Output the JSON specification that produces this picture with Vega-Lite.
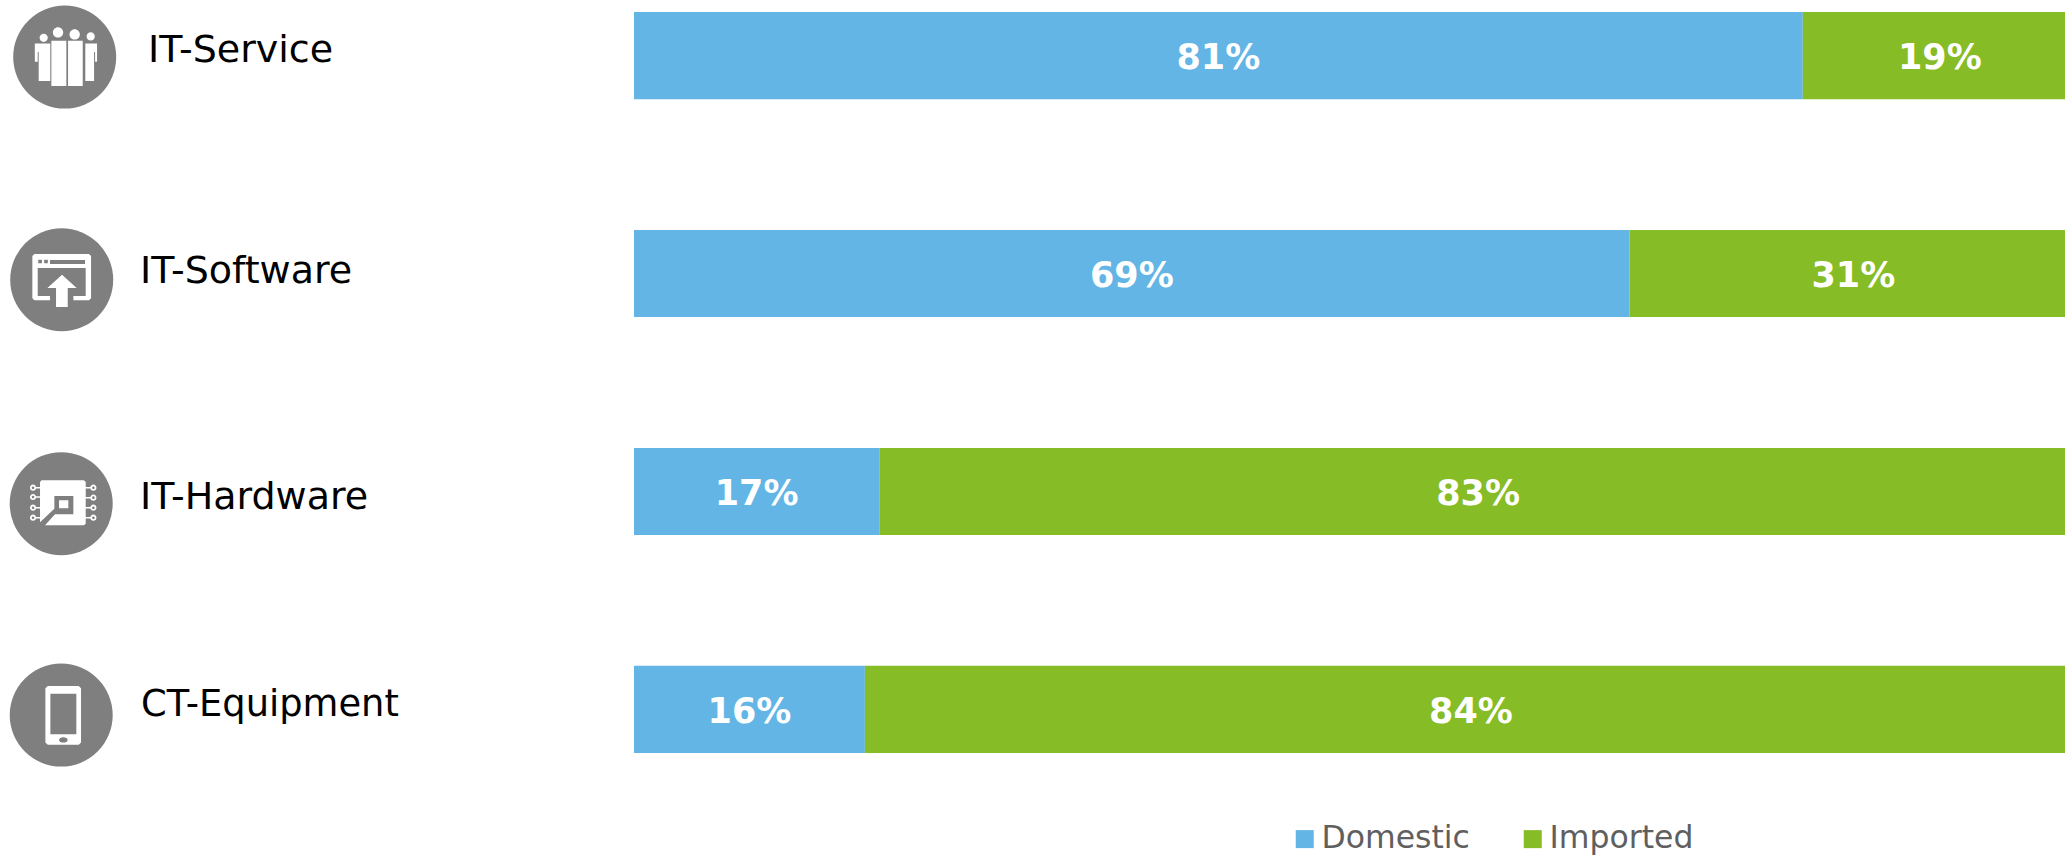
{
"$schema":"https://vega.github.io/schema/vega-lite/v6.json",
"autosize":{"type":"none"},
"padding":{"left":634,"top":0,"right":0,"bottom":91},
"width":1431,
"height":765,
"background":"white",
"config":{"view":{"stroke":null}},
"data":{"values":[
{"category":"IT-Service","type":"Domestic","value":0.81},
{"category":"IT-Service","type":"Imported","value":0.19},
{"category":"IT-Software","type":"Domestic","value":0.69},
{"category":"IT-Software","type":"Imported","value":0.31},
{"category":"IT-Hardware","type":"Domestic","value":0.17},
{"category":"IT-Hardware","type":"Imported","value":0.83},
{"category":"CT-Equipment","type":"Domestic","value":0.16},
{"category":"CT-Equipment","type":"Imported","value":0.84}
]},
"encoding":{
"y":{"field":"category","type":"nominal","axis":null,"scale":{"domain":["IT-Service","IT-Software","IT-Hardware","CT-Equipment"],"paddingInner":0.6,"paddingOuter":0.055}}
},
"layer":[
{"mark":{"type":"bar","clip":true,"cornerRadius":0},
"encoding":{
"x":{"field":"value","type":"quantitative","stack":"zero","axis":null,"scale":{"domain":[0,0.9917],"nice":false,"zero":false}},
"order":{"field":"type","sort":"ascending"},
"color":{"field":"type","type":"nominal","scale":{"domain":["Domestic","Imported"],"range":["#62B5E5","#86BC25"]},
"legend":{"title":null,"orient":"none","legendX":655,"legendY":823,"direction":"horizontal","symbolType":"square","symbolSize":324,"symbolStrokeWidth":0,"labelFontSize":31.5,"labelFont":"DejaVu Sans","labelColor":"#5f5f5f","labelOffset":1,"columnPadding":47,"labelLimit":400}}
}},
{"mark":{"type":"text","color":"white","font":"DejaVu Sans","fontWeight":"bold","fontSize":35,"baseline":"alphabetic","align":"center","yOffset":13.5},
"encoding":{
"x":{"field":"value","type":"quantitative","stack":"zero","bandPosition":0.5},
"order":{"field":"type","sort":"ascending"},
"detail":{"field":"type"},
"text":{"field":"value","type":"quantitative","format":".0%"}
}},
{"transform":[{"filter":"datum.type === 'Domestic'"}],
"mark":{"type":"text","color":"black","font":"DejaVu Sans","baseline":"alphabetic","align":"left",
"fontSize":{"expr":"datum.category === 'CT-Equipment' ? 36.8 : 38"},
"xOffset":{"expr":"({'IT-Service':-486,'IT-Software':-494,'IT-Hardware':-494,'CT-Equipment':-493})[datum.category]"},
"yOffset":{"expr":"({'IT-Service':6.2,'IT-Software':9.8,'IT-Hardware':17.5,'CT-Equipment':6.5})[datum.category]"}},
"encoding":{"x":{"datum":0,"type":"quantitative"},"text":{"field":"category","type":"nominal"}}
},
{"transform":[{"filter":"datum.type === 'Domestic'"}],
"mark":{"type":"point","shape":"circle","filled":true,"opacity":1,"color":"#7f7f7f","size":10609,"strokeWidth":0,
"xOffset":{"expr":"({'IT-Service':-569.3,'IT-Software':-572.3,'IT-Hardware':-572.8,'CT-Equipment':-572.8})[datum.category]"},
"yOffset":{"expr":"({'IT-Service':1.5,'IT-Software':6.2,'IT-Hardware':12.2,'CT-Equipment':5.7})[datum.category]"}},
"encoding":{"x":{"datum":0,"type":"quantitative"}}
},
{"transform":[{"filter":"datum.type === 'Domestic'"}],
"mark":{"type":"point","filled":true,"opacity":1,"color":"white","size":10609,"strokeWidth":0,
"xOffset":{"expr":"({'IT-Service':-569.3,'IT-Software':-572.3,'IT-Hardware':-572.8,'CT-Equipment':-572.8})[datum.category]"},
"yOffset":{"expr":"({'IT-Service':1.5,'IT-Software':6.2,'IT-Hardware':12.2,'CT-Equipment':5.7})[datum.category]"}},
"encoding":{"x":{"datum":0,"type":"quantitative"},
"shape":{"field":"category","type":"nominal","legend":null,"scale":{"domain":["IT-Service","IT-Software","IT-Hardware","CT-Equipment"],"range":[
"M-0.488 -0.375A0.08 0.08 0 1 1 -0.328 -0.375A0.08 0.08 0 1 1 -0.488 -0.375ZM-0.229 -0.479A0.1 0.1 0 1 1 -0.029 -0.479A0.1 0.1 0 1 1 -0.229 -0.479ZM0.094 -0.44A0.1 0.1 0 1 1 0.294 -0.44A0.1 0.1 0 1 1 0.094 -0.44ZM0.425 -0.401A0.08 0.08 0 1 1 0.585 -0.401A0.08 0.08 0 1 1 0.425 -0.401ZM-0.58 -0.265L-0.28 -0.265L-0.28 0.466L-0.505 0.466L-0.505 -0.1L-0.524 -0.1L-0.524 0.09L-0.58 0.09ZM-0.259 -0.317L0.032 -0.317L0.032 0.563L-0.259 0.563ZM0.065 -0.317L0.35 -0.317L0.35 0.563L0.065 0.563ZM0.375 -0.265L0.628 -0.265L0.628 0.09L0.59 0.09L0.59 -0.1L0.57 -0.1L0.57 0.466L0.4 0.466L0.4 -0.265Z",
"M-0.53 -0.498L0.53 -0.498L0.57 -0.46L0.57 0.36L0.53 0.4L0.227 0.4L0.227 0.317L0.466 0.317L0.466 -0.227L-0.466 -0.227L-0.466 0.317L-0.227 0.317L-0.227 0.4L-0.53 0.4L-0.57 0.36L-0.57 -0.46ZM-0.455 -0.39L-0.455 -0.32L-0.385 -0.32L-0.385 -0.39ZM-0.34 -0.39L-0.34 -0.32L-0.27 -0.32L-0.27 -0.39ZM-0.227 -0.382L-0.227 -0.304L0.453 -0.304L0.453 -0.382ZM0.006 -0.097L0.29 0.162L0.117 0.162L0.117 0.53L-0.11 0.53L-0.11 0.162L-0.278 0.162Z",
"M-0.38 -0.453L0.44 -0.453L0.476 -0.42L0.476 0.39L0.44 0.42L-0.314 0.42L-0.12 0.207L0.236 0.207L0.236 -0.149L-0.133 -0.149L-0.133 0.1L-0.411 0.36L-0.411 -0.42ZM-0.042 -0.065L0.139 -0.065L0.139 0.09L-0.042 0.09ZM-0.607 -0.31A0.06 0.06 0 1 1 -0.487 -0.31A0.06 0.06 0 1 1 -0.607 -0.31ZM-0.572 -0.31A0.025 0.025 0 1 0 -0.522 -0.31A0.025 0.025 0 1 0 -0.572 -0.31ZM-0.607 -0.13A0.06 0.06 0 1 1 -0.487 -0.13A0.06 0.06 0 1 1 -0.607 -0.13ZM-0.572 -0.13A0.025 0.025 0 1 0 -0.522 -0.13A0.025 0.025 0 1 0 -0.572 -0.13ZM-0.607 0.078A0.06 0.06 0 1 1 -0.487 0.078A0.06 0.06 0 1 1 -0.607 0.078ZM-0.572 0.078A0.025 0.025 0 1 0 -0.522 0.078A0.025 0.025 0 1 0 -0.572 0.078ZM-0.607 0.272A0.06 0.06 0 1 1 -0.487 0.272A0.06 0.06 0 1 1 -0.607 0.272ZM-0.572 0.272A0.025 0.025 0 1 0 -0.522 0.272A0.025 0.025 0 1 0 -0.572 0.272ZM0.565 -0.31A0.06 0.06 0 1 1 0.685 -0.31A0.06 0.06 0 1 1 0.565 -0.31ZM0.6 -0.31A0.025 0.025 0 1 0 0.65 -0.31A0.025 0.025 0 1 0 0.6 -0.31ZM0.565 -0.117A0.06 0.06 0 1 1 0.685 -0.117A0.06 0.06 0 1 1 0.565 -0.117ZM0.6 -0.117A0.025 0.025 0 1 0 0.65 -0.117A0.025 0.025 0 1 0 0.6 -0.117ZM0.565 0.078A0.06 0.06 0 1 1 0.685 0.078A0.06 0.06 0 1 1 0.565 0.078ZM0.6 0.078A0.025 0.025 0 1 0 0.65 0.078A0.025 0.025 0 1 0 0.6 0.078ZM0.565 0.272A0.06 0.06 0 1 1 0.685 0.272A0.06 0.06 0 1 1 0.565 0.272ZM0.6 0.272A0.025 0.025 0 1 0 0.65 0.272A0.025 0.025 0 1 0 0.6 0.272ZM-0.49 -0.325L-0.411 -0.325L-0.411 -0.295L-0.49 -0.295ZM-0.49 -0.145L-0.411 -0.145L-0.411 -0.115L-0.49 -0.115ZM-0.49 0.063L-0.411 0.063L-0.411 0.093L-0.49 0.093ZM-0.49 0.257L-0.411 0.257L-0.411 0.287L-0.49 0.287ZM0.476 -0.325L0.567 -0.325L0.567 -0.295L0.476 -0.295ZM0.476 -0.132L0.567 -0.132L0.567 -0.102L0.476 -0.102ZM0.476 0.063L0.567 0.063L0.567 0.093L0.476 0.093ZM0.476 0.257L0.567 0.257L0.567 0.287L0.476 0.287Z",
"M-0.26 -0.566L0.34 -0.566L0.385 -0.52L0.385 0.53L0.34 0.573L-0.26 0.573L-0.307 0.53L-0.307 -0.52ZM-0.21 -0.417L-0.21 0.369L0.294 0.369L0.294 -0.417ZM-0.042 0.482A0.084 0.052 0 1 0 0.126 0.482A0.084 0.052 0 1 0 -0.042 0.482Z"
]}}}
}
]
}
